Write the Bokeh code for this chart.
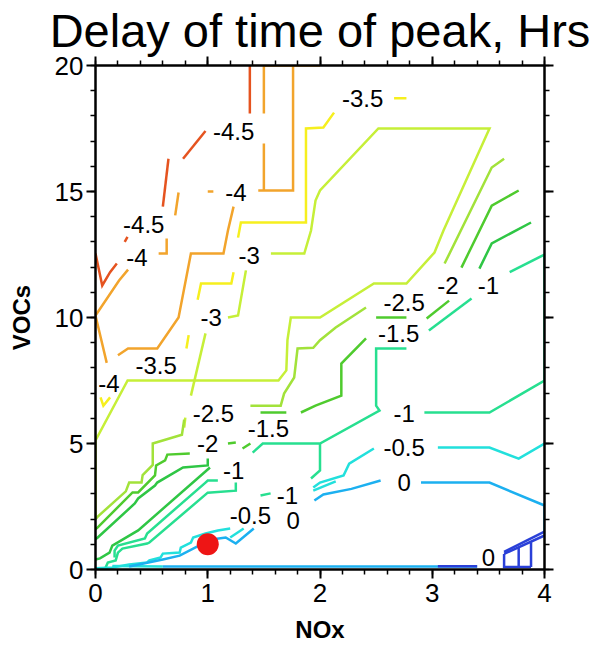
from bokeh.plotting import figure
from bokeh.models import FixedTicker, LinearAxis, Range1d, ColumnDataSource, CustomJSTickFormatter
from bokeh.embed import file_html
from bokeh.resources import INLINE
from bokeh.core.properties import value

# ---------------- data ----------------
x_ticks = [0, 1, 2, 3, 4]
y_ticks = [0, 5, 10, 15, 20]

# contour level -4.5
m45_x = [[1.375, 1.375], [0.98, 0.78], [0.65, 0.60], [0.26, 0.285], [0.19, 0.13, 0.06, 0.0]]
m45_y = [[20, 18.1], [17.4, 16.3], [16.3, 14.4], [13.0, 13.2], [12.14, 11.8, 11.27, 12.54]]

# contour level -4
m40_x = [[1.5, 1.5], [1.5, 1.5], [1.45, 1.76, 1.76], [1.5, 2.0], [1.0, 1.05], [0.74, 0.71],
         [0.634, 0.634, 0.5625], [0.29, 0.21, 0.0, 0.1],
         [1.23, 1.18, 1.14, 0.85, 0.74, 0.55, 0.29, 0.2]]
m40_y = [[20, 18.1], [16.9, 15.04], [15.04, 15.04, 20], [20, 20], [15.0, 15.0], [14.96, 14.05],
         [13.13, 12.54, 12.54], [11.9, 11.47, 10.08, 8.2],
         [14.4, 13.45, 12.54, 12.54, 10.0, 8.77, 8.77, 8.5]]

# contour level -3.5
m35_x = [[2.66, 2.77], [2.125, 2.03, 1.875, 1.875, 1.295, 1.27], [1.23, 1.21, 0.94, 0.91],
         [0.83, 0.81], [0.045, 0.07, 0.13]]
m35_y = [[18.7, 18.7], [18.13, 17.54, 17.5, 13.77, 13.77, 13.17], [11.8, 11.35, 11.35, 10.7],
         [9.3, 8.77], [6.83, 6.5, 6.83]]

# contour level -3
m30_x = [[0.0, 0.286, 1.63, 1.70, 1.71, 1.74, 2.0, 2.48, 2.77, 3.02, 3.1, 3.51, 2.52, 2.0, 1.96, 1.92, 1.86, 1.5625],
         [1.34, 1.27, 1.18], [0.98, 0.85], [0.80, 0.79], [0.0, 0.0]]
m30_y = [[5.12, 7.5, 7.5, 7.9, 9.1, 10.0, 10.0, 11.35, 11.35, 12.58, 13.45, 17.5, 17.5, 15.04, 14.64, 13.45, 12.54, 12.54],
         [11.87, 10.08, 10.0], [9.37, 6.9], [6.03, 5.63], [2.0, 5.12]]

# contour level -2.5
m25_x = [[0.79, 0.77, 0.51, 0.51, 0.42, 0.41, 0.30, 0.27, 0.02, 0.0],
         [1.38, 1.65, 1.68, 1.77, 1.8, 1.94, 2.0, 2.14, 2.41],
         [3.11, 3.53, 3.64]]
m25_y = [[5.95, 5.35, 5.0, 4.15, 3.75, 3.45, 3.45, 3.1, 2.1, 2.0],
         [6.5, 6.5, 6.98, 7.62, 8.77, 8.8, 9.1, 9.6, 10.4],
         [12.14, 15.95, 16.3]]

# contour level -2
m20_x = [[0.84, 0.64, 0.62, 0.54, 0.53, 0.38, 0.33, 0.02, 0.0],
         [3.26, 3.53, 3.77], [3.15, 2.95], [2.5, 2.77],
         [2.41, 2.19, 2.19, 1.96, 1.83], [1.47, 1.7], [1.18, 1.25], [1.31, 1.38]]
m20_y = [[4.6, 4.56, 4.33, 4.13, 3.73, 3.06, 3.06, 1.67, 1.6],
         [11.98, 14.44, 15.04], [10.67, 9.96], [10.0, 10.0],
         [9.17, 8.17, 6.9, 6.5, 6.23], [6.23, 6.23], [5.0, 5.04], [4.8, 5.0]]

# contour level -1.5
m15_x = [[1.0, 1.0, 0.78, 0.55, 0.53, 0.38, 0.35, 0.02, 0.0],
         [1.02, 0.38, 0.15, 0.125, 0.04, 0.0],
         [3.42, 3.53, 3.88]]
m15_y = [[4.4, 4.13, 4.05, 3.45, 3.33, 2.82, 2.62, 1.27, 1.2],
         [4.05, 1.55, 0.95, 0.67, 0.44, 0.4],
         [11.94, 12.94, 13.77]]

# contour level -1
m10_x = [[4.0, 3.69], [3.35, 2.97], [2.77, 2.5, 2.5, 2.53, 2.0, 1.49, 1.4], [2.0, 2.0, 1.92],
         [2.93, 3.51, 4.0, 4.0], [1.09, 1.0, 0.98, 0.46, 0.44, 0.2, 0.17, 0.17],
         [1.25, 1.25, 1.0, 0.48, 0.46, 0.24, 0.2, 0.18, 0.11, 0.09], [1.47, 1.56]]
m10_y = [[12.5, 11.8], [10.75, 9.48], [8.77, 8.77, 6.5, 6.31, 5.0, 5.0, 4.64], [5.0, 3.93, 3.61],
         [6.23, 6.23, 7.5, 12.5], [3.53, 3.53, 3.45, 1.43, 1.23, 0.95, 0.75, 0.48],
         [3.45, 3.13, 3.05, 1.07, 1.03, 0.83, 0.67, 0.36, 0.28, 0.08], [2.94, 3.02]]

# contour level -0.5
m05_x = [[1.2, 1.09, 0.98, 0.87, 0.85, 0.76, 0.75, 0.6, 0.58, 0.48, 0.46, 0.3, 0.15, 0.0],
         [1.94, 2.0, 2.21, 2.26, 2.48], [3.05, 3.51, 3.77, 4.0], [1.94, 2.14], [1.2, 1.32],
         [0.15, 0.6]]
m05_y = [[1.63, 1.55, 1.43, 1.27, 1.07, 0.87, 0.67, 0.63, 0.48, 0.36, 0.28, 0.2, 0.08, 0.05],
         [3.25, 3.45, 3.73, 4.2, 4.8], [4.84, 4.84, 4.4, 5.0], [3.13, 3.5], [1.27, 1.63],
         [0.14, 0.12]]

# contour level 0
z00_x = [[0.3, 0.6, 0.75, 0.9, 1.05, 1.16, 1.25, 1.41], [1.95, 2.03, 2.28, 2.54],
         [2.9, 3.51, 4.0, 4.0], [0.6, 3.4]]
z00_y = [[0.12, 0.4, 0.55, 0.9, 1.2, 1.27, 1.03, 1.63], [2.74, 2.98, 3.2, 3.53],
         [3.45, 3.45, 2.54, 1.43], [0.12, 0.12]]

# contour level +0.5 (bottom right)
p05_x = [[3.05, 3.4], [3.64, 4.0], [3.64, 4.0], [3.64, 3.64, 3.88], [3.77, 3.77], [3.88, 3.88]]
p05_y = [[0.13, 0.13], [0.7, 1.5], [0.62, 1.35], [0.62, 0.1, 0.1], [0.1, 0.88], [0.1, 1.08]]

level_colors = ["#e5531f", "#f2a42c", "#f6ef1e", "#c6ef38", "#a2e23a", "#4fcb2e",
                "#2fc645", "#27df90", "#22e0dc", "#1cb0f0", "#2a40d8"]

label_text = ["-3.5", "-4.5", "-4", "-4.5", "-4", "-3", "-3", "-3.5", "-4", "-2.5", "-2", "-1",
              "-1.5", "-2.5", "-1.5", "-2", "-1", "-1", "-0.5", "0", "-1", "-0.5", "0", "0"]
label_x = [2.38, 1.23, 1.25, 0.43, 0.37, 1.37, 1.03, 0.54, 0.12, 2.75, 3.14, 3.5,
           2.7, 1.05, 1.54, 1.0, 1.23, 1.71, 1.38, 1.76, 2.75, 2.75, 2.75, 3.5]
label_y = [18.7, 17.4, 14.96, 13.7, 12.4, 12.46, 10.0, 8.1, 7.4, 10.6, 11.27, 11.27,
           9.37, 6.2, 5.6, 5.0, 3.93, 2.95, 2.14, 1.94, 6.2, 4.85, 3.45, 0.48]

point_x = [1.0]
point_y = [1.0]

# ---------------- figure ----------------
FONT = "Liberation Sans"
p = figure(width=591, height=645, x_range=Range1d(0, 4), y_range=Range1d(0, 20),
           output_backend="svg", toolbar_location=None,
           min_border_left=95, min_border_right=47, min_border_top=65, min_border_bottom=76)
p.grid.visible = False
p.outline_line_color = None
p.background_fill_color = "white"

p.title.text = "Delay of time of peak, Hrs"
p.title.text_font = FONT
p.title.text_font_size = "47px"
p.title.text_font_style = "normal"
p.title.text_color = "black"
p.title.align = "center"
p.title.offset = -12
p.title.standoff = 0

xt = FixedTicker(ticks=x_ticks, minor_ticks=[i * 0.2 for i in range(21)])
yt = FixedTicker(ticks=y_ticks, minor_ticks=list(range(21)))

def style_axis(ax):
    ax.axis_line_width = 2.5
    ax.axis_line_color = "black"
    ax.major_tick_line_width = 2
    ax.minor_tick_line_width = 1.5
    ax.major_tick_in = 0
    ax.major_tick_out = 9
    ax.minor_tick_in = 0
    ax.minor_tick_out = 5
    ax.major_label_text_font = FONT
    ax.major_label_text_font_size = "26px"
    ax.major_label_text_color = "black"
    ax.axis_label_text_font = FONT
    ax.axis_label_text_font_style = "bold"
    ax.axis_label_text_font_size = "24px"
    ax.axis_label_text_color = "black"

p.xaxis.ticker = xt
p.yaxis.ticker = yt
style_axis(p.xaxis[0])
style_axis(p.yaxis[0])
p.xaxis.axis_label = "NOx"
p.yaxis.axis_label = "VOCs"
p.xaxis.major_label_standoff = 5
p.yaxis.major_label_standoff = 3
p.xaxis.axis_label_standoff = 11
p.yaxis.axis_label_standoff = 17

blank = CustomJSTickFormatter(code="return ''")
top = LinearAxis(ticker=xt, formatter=blank)
right = LinearAxis(ticker=yt, formatter=blank)
style_axis(top)
style_axis(right)
top.major_label_standoff = 0
right.major_label_standoff = 0
p.add_layout(top, "above")
p.add_layout(right, "right")

levels = [(m45_x, m45_y), (m40_x, m40_y), (m35_x, m35_y), (m30_x, m30_y), (m25_x, m25_y),
          (m20_x, m20_y), (m15_x, m15_y), (m10_x, m10_y), (m05_x, m05_y), (z00_x, z00_y),
          (p05_x, p05_y)]
for (xs, ys), c in zip(levels, level_colors):
    p.multi_line(xs=xs, ys=ys, line_color=c, line_width=2.5, line_join="miter")

src = ColumnDataSource(dict(x=label_x, y=label_y, t=label_text))
p.text(x="x", y="y", text="t", source=src, text_align="center", text_baseline="middle",
       text_font=value(FONT), text_font_size=value("24px"), text_color="black")

p.scatter(point_x, point_y, size=22, color="#ee1515", line_color=None)

open("out.html", "w").write(file_html(p, INLINE))
